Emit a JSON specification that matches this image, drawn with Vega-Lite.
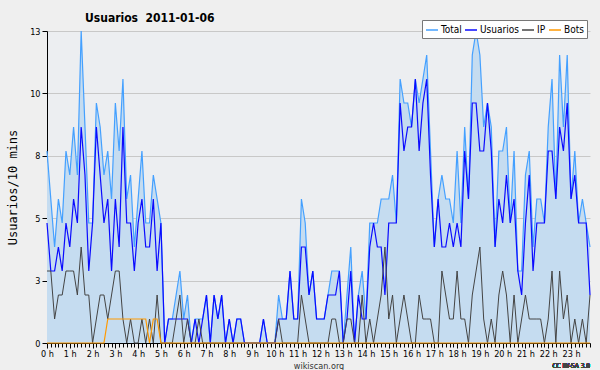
{
  "$schema": "https://vega.github.io/schema/vega-lite/v6.json",
  "width": 543,
  "height": 312,
  "autosize": {"type": "none"},
  "padding": {"left": 47, "top": 31, "right": 10, "bottom": 27},
  "background": "#efefef",
  "title": {
    "text": "Usuarios\u00a0\u00a02011-01-06",
    "anchor": "start",
    "frame": "group",
    "dx": 38,
    "dy": 13,
    "offset": 8,
    "font": "DejaVu Sans Condensed, DejaVu Sans",
    "fontSize": 12,
    "fontWeight": "bold",
    "color": "#000000"
  },
  "data": {
    "values": [
      {"m":0,"Total":8,"Usuarios":5,"IP":3,"Bots":0},
      {"m":10,"Total":6,"Usuarios":3,"IP":3,"Bots":0},
      {"m":20,"Total":4,"Usuarios":3,"IP":1,"Bots":0},
      {"m":30,"Total":6,"Usuarios":4,"IP":2,"Bots":0},
      {"m":40,"Total":5,"Usuarios":3,"IP":2,"Bots":0},
      {"m":50,"Total":8,"Usuarios":5,"IP":3,"Bots":0},
      {"m":60,"Total":7,"Usuarios":4,"IP":3,"Bots":0},
      {"m":70,"Total":9,"Usuarios":6,"IP":3,"Bots":0},
      {"m":80,"Total":7,"Usuarios":5,"IP":2,"Bots":0},
      {"m":90,"Total":13,"Usuarios":9,"IP":4,"Bots":0},
      {"m":100,"Total":9,"Usuarios":7,"IP":2,"Bots":0},
      {"m":110,"Total":5,"Usuarios":3,"IP":2,"Bots":0},
      {"m":120,"Total":5,"Usuarios":5,"IP":0,"Bots":0},
      {"m":130,"Total":10,"Usuarios":9,"IP":1,"Bots":0},
      {"m":140,"Total":9,"Usuarios":7,"IP":2,"Bots":0},
      {"m":150,"Total":7,"Usuarios":5,"IP":2,"Bots":0},
      {"m":160,"Total":8,"Usuarios":6,"IP":1,"Bots":1},
      {"m":170,"Total":6,"Usuarios":3,"IP":2,"Bots":1},
      {"m":180,"Total":10,"Usuarios":6,"IP":3,"Bots":1},
      {"m":190,"Total":8,"Usuarios":4,"IP":3,"Bots":1},
      {"m":200,"Total":11,"Usuarios":9,"IP":1,"Bots":1},
      {"m":210,"Total":6,"Usuarios":5,"IP":0,"Bots":1},
      {"m":220,"Total":7,"Usuarios":5,"IP":1,"Bots":1},
      {"m":230,"Total":4,"Usuarios":3,"IP":0,"Bots":1},
      {"m":240,"Total":6,"Usuarios":5,"IP":0,"Bots":1},
      {"m":250,"Total":8,"Usuarios":6,"IP":1,"Bots":1},
      {"m":260,"Total":5,"Usuarios":4,"IP":0,"Bots":1},
      {"m":270,"Total":5,"Usuarios":4,"IP":1,"Bots":0},
      {"m":280,"Total":7,"Usuarios":6,"IP":0,"Bots":1},
      {"m":290,"Total":6,"Usuarios":3,"IP":2,"Bots":1},
      {"m":300,"Total":5,"Usuarios":5,"IP":0,"Bots":0},
      {"m":310,"Total":0,"Usuarios":0,"IP":0,"Bots":0},
      {"m":320,"Total":1,"Usuarios":1,"IP":0,"Bots":0},
      {"m":330,"Total":1,"Usuarios":1,"IP":0,"Bots":0},
      {"m":340,"Total":2,"Usuarios":1,"IP":1,"Bots":0},
      {"m":350,"Total":3,"Usuarios":1,"IP":2,"Bots":0},
      {"m":360,"Total":1,"Usuarios":1,"IP":0,"Bots":0},
      {"m":370,"Total":2,"Usuarios":1,"IP":1,"Bots":0},
      {"m":380,"Total":0,"Usuarios":0,"IP":0,"Bots":0},
      {"m":390,"Total":1,"Usuarios":1,"IP":0,"Bots":0},
      {"m":400,"Total":1,"Usuarios":0,"IP":1,"Bots":0},
      {"m":410,"Total":1,"Usuarios":1,"IP":0,"Bots":0},
      {"m":420,"Total":2,"Usuarios":2,"IP":0,"Bots":0},
      {"m":430,"Total":0,"Usuarios":0,"IP":0,"Bots":0},
      {"m":440,"Total":2,"Usuarios":2,"IP":0,"Bots":0},
      {"m":450,"Total":1,"Usuarios":1,"IP":0,"Bots":0},
      {"m":460,"Total":2,"Usuarios":2,"IP":0,"Bots":0},
      {"m":470,"Total":0,"Usuarios":0,"IP":0,"Bots":0},
      {"m":480,"Total":1,"Usuarios":1,"IP":0,"Bots":0},
      {"m":490,"Total":0,"Usuarios":0,"IP":0,"Bots":0},
      {"m":500,"Total":1,"Usuarios":1,"IP":0,"Bots":0},
      {"m":510,"Total":1,"Usuarios":1,"IP":0,"Bots":0},
      {"m":520,"Total":0,"Usuarios":0,"IP":0,"Bots":0},
      {"m":530,"Total":0,"Usuarios":0,"IP":0,"Bots":0},
      {"m":540,"Total":0,"Usuarios":0,"IP":0,"Bots":0},
      {"m":550,"Total":0,"Usuarios":0,"IP":0,"Bots":0},
      {"m":560,"Total":0,"Usuarios":0,"IP":0,"Bots":0},
      {"m":570,"Total":1,"Usuarios":1,"IP":0,"Bots":0},
      {"m":580,"Total":0,"Usuarios":0,"IP":0,"Bots":0},
      {"m":590,"Total":0,"Usuarios":0,"IP":0,"Bots":0},
      {"m":600,"Total":0,"Usuarios":0,"IP":0,"Bots":0},
      {"m":610,"Total":2,"Usuarios":1,"IP":1,"Bots":0},
      {"m":620,"Total":1,"Usuarios":1,"IP":0,"Bots":0},
      {"m":630,"Total":1,"Usuarios":1,"IP":0,"Bots":0},
      {"m":640,"Total":3,"Usuarios":3,"IP":0,"Bots":0},
      {"m":650,"Total":1,"Usuarios":1,"IP":0,"Bots":0},
      {"m":660,"Total":1,"Usuarios":1,"IP":0,"Bots":0},
      {"m":670,"Total":6,"Usuarios":4,"IP":2,"Bots":0},
      {"m":680,"Total":5,"Usuarios":4,"IP":1,"Bots":0},
      {"m":690,"Total":2,"Usuarios":2,"IP":0,"Bots":0},
      {"m":700,"Total":3,"Usuarios":3,"IP":0,"Bots":0},
      {"m":710,"Total":1,"Usuarios":1,"IP":0,"Bots":0},
      {"m":720,"Total":1,"Usuarios":1,"IP":0,"Bots":0},
      {"m":730,"Total":1,"Usuarios":1,"IP":0,"Bots":0},
      {"m":740,"Total":2,"Usuarios":2,"IP":0,"Bots":0},
      {"m":750,"Total":3,"Usuarios":2,"IP":1,"Bots":0},
      {"m":760,"Total":3,"Usuarios":2,"IP":1,"Bots":0},
      {"m":770,"Total":3,"Usuarios":3,"IP":0,"Bots":0},
      {"m":780,"Total":0,"Usuarios":0,"IP":0,"Bots":0},
      {"m":790,"Total":2,"Usuarios":1,"IP":1,"Bots":0},
      {"m":800,"Total":4,"Usuarios":3,"IP":1,"Bots":0},
      {"m":810,"Total":0,"Usuarios":0,"IP":0,"Bots":0},
      {"m":820,"Total":2,"Usuarios":2,"IP":0,"Bots":0},
      {"m":830,"Total":3,"Usuarios":1,"IP":2,"Bots":0},
      {"m":840,"Total":1,"Usuarios":1,"IP":0,"Bots":0},
      {"m":850,"Total":5,"Usuarios":4,"IP":1,"Bots":0},
      {"m":860,"Total":5,"Usuarios":5,"IP":0,"Bots":0},
      {"m":870,"Total":5,"Usuarios":4,"IP":1,"Bots":0},
      {"m":880,"Total":6,"Usuarios":4,"IP":2,"Bots":0},
      {"m":890,"Total":6,"Usuarios":2,"IP":4,"Bots":0},
      {"m":900,"Total":6,"Usuarios":5,"IP":1,"Bots":0},
      {"m":910,"Total":7,"Usuarios":5,"IP":2,"Bots":0},
      {"m":920,"Total":5,"Usuarios":5,"IP":0,"Bots":0},
      {"m":930,"Total":11,"Usuarios":10,"IP":1,"Bots":0},
      {"m":940,"Total":10,"Usuarios":8,"IP":2,"Bots":0},
      {"m":950,"Total":10,"Usuarios":9,"IP":1,"Bots":0},
      {"m":960,"Total":9,"Usuarios":9,"IP":0,"Bots":0},
      {"m":970,"Total":11,"Usuarios":11,"IP":0,"Bots":0},
      {"m":980,"Total":10,"Usuarios":8,"IP":2,"Bots":0},
      {"m":990,"Total":11,"Usuarios":10,"IP":1,"Bots":0},
      {"m":1000,"Total":12,"Usuarios":11,"IP":1,"Bots":0},
      {"m":1010,"Total":8,"Usuarios":7,"IP":1,"Bots":0},
      {"m":1020,"Total":4,"Usuarios":4,"IP":0,"Bots":0},
      {"m":1030,"Total":6,"Usuarios":6,"IP":0,"Bots":0},
      {"m":1040,"Total":7,"Usuarios":4,"IP":3,"Bots":0},
      {"m":1050,"Total":6,"Usuarios":4,"IP":2,"Bots":0},
      {"m":1060,"Total":6,"Usuarios":5,"IP":1,"Bots":0},
      {"m":1070,"Total":5,"Usuarios":4,"IP":1,"Bots":0},
      {"m":1080,"Total":8,"Usuarios":5,"IP":3,"Bots":0},
      {"m":1090,"Total":5,"Usuarios":4,"IP":1,"Bots":0},
      {"m":1100,"Total":9,"Usuarios":8,"IP":1,"Bots":0},
      {"m":1110,"Total":6,"Usuarios":6,"IP":0,"Bots":0},
      {"m":1120,"Total":12,"Usuarios":10,"IP":2,"Bots":0},
      {"m":1130,"Total":13,"Usuarios":10,"IP":3,"Bots":0},
      {"m":1140,"Total":12,"Usuarios":8,"IP":4,"Bots":0},
      {"m":1150,"Total":9,"Usuarios":8,"IP":1,"Bots":0},
      {"m":1160,"Total":10,"Usuarios":10,"IP":0,"Bots":0},
      {"m":1170,"Total":9,"Usuarios":8,"IP":1,"Bots":0},
      {"m":1180,"Total":4,"Usuarios":4,"IP":0,"Bots":0},
      {"m":1190,"Total":8,"Usuarios":6,"IP":2,"Bots":0},
      {"m":1200,"Total":8,"Usuarios":5,"IP":3,"Bots":0},
      {"m":1210,"Total":9,"Usuarios":7,"IP":2,"Bots":0},
      {"m":1220,"Total":5,"Usuarios":5,"IP":0,"Bots":0},
      {"m":1230,"Total":8,"Usuarios":6,"IP":2,"Bots":0},
      {"m":1240,"Total":3,"Usuarios":3,"IP":0,"Bots":0},
      {"m":1250,"Total":3,"Usuarios":2,"IP":1,"Bots":0},
      {"m":1260,"Total":7,"Usuarios":5,"IP":2,"Bots":0},
      {"m":1270,"Total":8,"Usuarios":7,"IP":1,"Bots":0},
      {"m":1280,"Total":4,"Usuarios":3,"IP":1,"Bots":0},
      {"m":1290,"Total":6,"Usuarios":5,"IP":1,"Bots":0},
      {"m":1300,"Total":6,"Usuarios":5,"IP":1,"Bots":0},
      {"m":1310,"Total":5,"Usuarios":5,"IP":0,"Bots":0},
      {"m":1320,"Total":9,"Usuarios":8,"IP":1,"Bots":0},
      {"m":1330,"Total":11,"Usuarios":8,"IP":3,"Bots":0},
      {"m":1340,"Total":6,"Usuarios":6,"IP":0,"Bots":0},
      {"m":1350,"Total":12,"Usuarios":9,"IP":3,"Bots":0},
      {"m":1360,"Total":9,"Usuarios":8,"IP":1,"Bots":0},
      {"m":1370,"Total":12,"Usuarios":10,"IP":2,"Bots":0},
      {"m":1380,"Total":6,"Usuarios":6,"IP":0,"Bots":0},
      {"m":1390,"Total":8,"Usuarios":7,"IP":1,"Bots":0},
      {"m":1400,"Total":5,"Usuarios":5,"IP":0,"Bots":0},
      {"m":1410,"Total":6,"Usuarios":5,"IP":1,"Bots":0},
      {"m":1420,"Total":5,"Usuarios":5,"IP":0,"Bots":0},
      {"m":1430,"Total":4,"Usuarios":2,"IP":2,"Bots":0}
    ]
  },
  "encoding": {
    "x": {
      "field": "m",
      "type": "quantitative",
      "scale": {"domain": [0, 1430], "nice": false, "zero": false},
      "axis": {
        "values": [0,10,20,30,40,50,60,70,80,90,100,110,120,130,140,150,160,170,180,190,200,210,220,230,240,250,260,270,280,290,300,310,320,330,340,350,360,370,380,390,400,410,420,430,440,450,460,470,480,490,500,510,520,530,540,550,560,570,580,590,600,610,620,630,640,650,660,670,680,690,700,710,720,730,740,750,760,770,780,790,800,810,820,830,840,850,860,870,880,890,900,910,920,930,940,950,960,970,980,990,1000,1010,1020,1030,1040,1050,1060,1070,1080,1090,1100,1110,1120,1130,1140,1150,1160,1170,1180,1190,1200,1210,1220,1230,1240,1250,1260,1270,1280,1290,1300,1310,1320,1330,1340,1350,1360,1370,1380,1390,1400,1410,1420,1430],
        "labelExpr": "datum.value % 60 == 0 ? (datum.value / 60) + ' h' : ''",
        "labelOverlap": false,
        "labelFlush": false,
        "tickSize": {"condition": {"test": "datum.value % 60 == 0", "value": 5}, "value": 4},
        "grid": false,
        "title": "wikiscan.org",
        "titleFont": "DejaVu Sans Condensed, DejaVu Sans",
        "titleFontWeight": "normal",
        "titleFontSize": 9,
        "titleColor": "#333333",
        "titlePadding": 3,
        "labelPadding": 1
      }
    }
  },
  "layer": [
    {
      "mark": {"type": "area", "color": "#c5dcf0", "opacity": 1},
      "encoding": {
        "y": {
          "field": "Total",
          "type": "quantitative",
          "scale": {"domain": [0, 13], "nice": false, "zero": true},
          "axis": {
            "values": [0,0.65,1.3,1.95,2.6,3.25,3.9,4.55,5.2,5.85,6.5,7.15,7.8,8.45,9.1,9.75,10.4,11.05,11.7,12.35,13],
            "labelExpr": "abs(datum.value / 2.6 - round(datum.value / 2.6)) < 0.01 ? format(datum.value, '.0f') : ''",
            "tickSize": {"condition": {"test": "abs(datum.value / 2.6 - round(datum.value / 2.6)) < 0.01", "value": 5}, "value": 4},
            "gridColor": {"condition": {"test": "abs(datum.value / 2.6 - round(datum.value / 2.6)) < 0.01", "value": "#c8c8c8"}, "value": null},
            "gridOpacity": {"condition": {"test": "abs(datum.value / 2.6 - round(datum.value / 2.6)) < 0.01", "value": 1}, "value": 0},
            "grid": true,
            "title": "Usuarios/10 mins",
            "titleFont": "DejaVu Sans Mono",
            "titleFontWeight": "normal",
            "titleFontSize": 12,
            "titlePadding": 10,
            "labelPadding": 2,
            "labelOverlap": false
          }
        }
      }
    },
    {
      "mark": {"type": "line", "strokeWidth": 1.2},
      "encoding": {
        "y": {"field": "Total", "type": "quantitative", "title": "Usuarios/10 mins"},
        "color": {"datum": "Total"}
      }
    },
    {
      "mark": {"type": "line", "strokeWidth": 1.2},
      "encoding": {
        "y": {"field": "Usuarios", "type": "quantitative", "title": "Usuarios/10 mins"},
        "color": {"datum": "Usuarios"}
      }
    },
    {
      "mark": {"type": "line", "strokeWidth": 1},
      "encoding": {
        "y": {"field": "IP", "type": "quantitative", "title": "Usuarios/10 mins"},
        "color": {"datum": "IP"}
      }
    },
    {
      "mark": {"type": "line", "strokeWidth": 1.2},
      "encoding": {
        "y": {"field": "Bots", "type": "quantitative", "title": "Usuarios/10 mins"},
        "color": {
          "datum": "Bots",
          "scale": {"domain": ["Total", "Usuarios", "IP", "Bots"], "range": ["#44a0ff", "#0a0aff", "#444444", "#ff9900"]},
          "legend": {
            "title": null,
            "orient": "none",
            "direction": "horizontal",
            "legendX": 375,
            "legendY": -11,
            "symbolType": "stroke",
            "symbolSize": 144,
            "symbolStrokeWidth": 1.5,
            "labelFontSize": 10,
            "labelFont": "DejaVu Sans Condensed, DejaVu Sans",
            "labelOffset": 2,
            "columnPadding": 0,
            "fillColor": "#ffffff",
            "strokeColor": "#777777",
            "padding": 3
          }
        }
      }
    },
    {
      "mark": {"type": "text", "align": "right", "baseline": "middle", "fontSize": 6.5, "font": "DejaVu Sans Condensed, DejaVu Sans", "color": "#444444"},
      "encoding": {
        "x": {"datum": 1430},
        "y": {"datum": -0.96},
        "text": {"value": "CC BY-SA 3.0"}
      }
    }
  ],
  "config": {
    "view": {"fill": "#eceef1", "stroke": null},
    "font": "DejaVu Sans Condensed, DejaVu Sans",
    "axis": {
      "domainColor": "#000000",
      "tickColor": "#000000",
      "labelColor": "#000000",
      "labelFontSize": 9,
      "labelFont": "DejaVu Sans Condensed, DejaVu Sans",
      "titleColor": "#000000"
    }
  }
}
